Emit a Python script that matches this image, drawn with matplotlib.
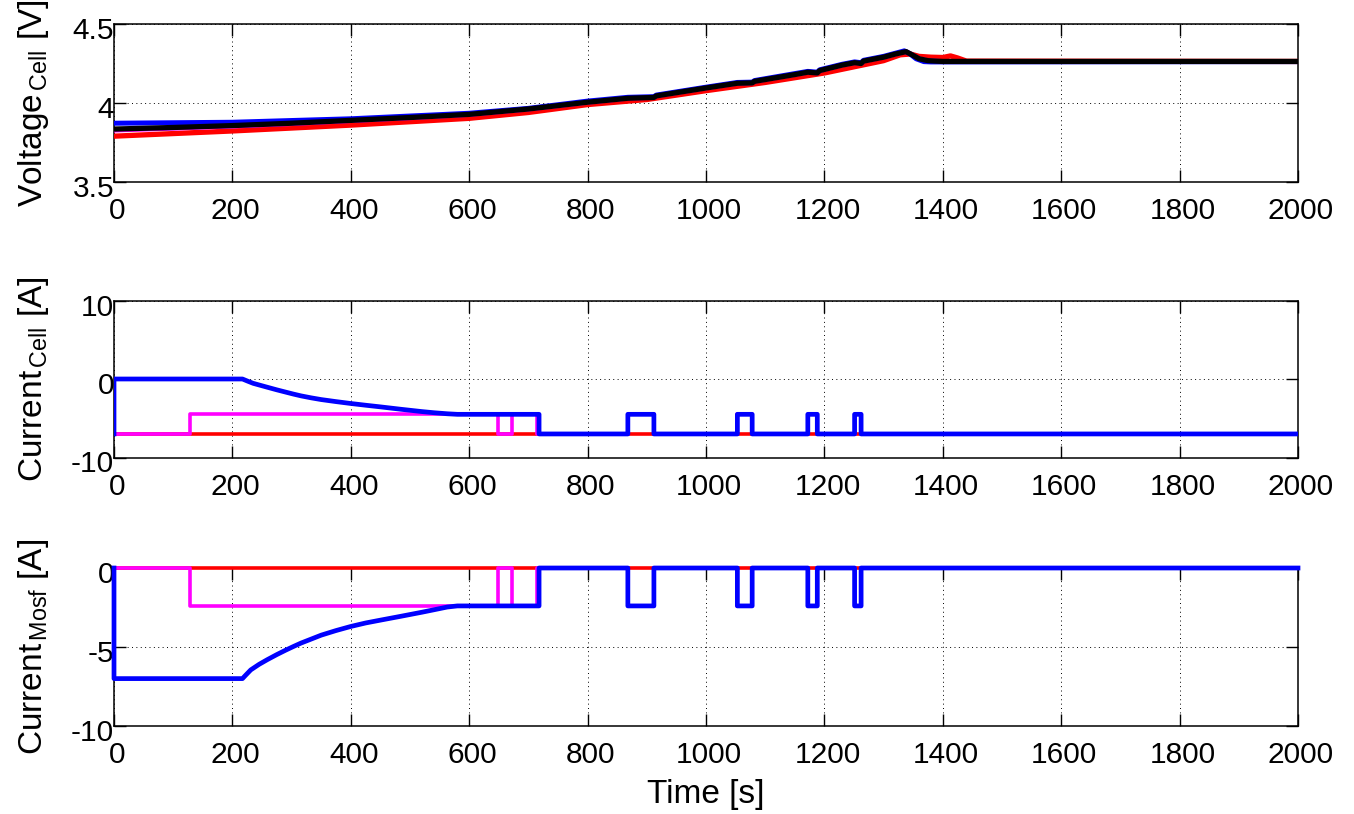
import matplotlib
matplotlib.use("Agg")
import matplotlib.pyplot as plt
import matplotlib.transforms as mtransforms
import numpy as np

plt.rcParams['font.family'] = ['Liberation Sans', 'DejaVu Sans']
plt.rcParams['mathtext.fontset'] = 'custom'
plt.rcParams['mathtext.rm'] = 'Liberation Sans'
plt.rcParams['mathtext.it'] = 'Liberation Sans:italic'
plt.rcParams['mathtext.bf'] = 'Liberation Sans:bold'

# ---------------- data ----------------
# Voltage (top panel)
v_black_t = [0, 100, 200, 300, 400, 500, 600, 700, 800, 868, 912, 916, 1000, 1053, 1078, 1082,
             1150, 1172, 1188, 1192, 1230, 1251, 1262, 1266, 1300, 1320, 1338, 1348, 1360, 1375,
             1400, 2000]
v_black = [3.835, 3.845, 3.857, 3.872, 3.89, 3.908, 3.928, 3.962, 4.005, 4.03, 4.035, 4.045, 4.095,
           4.125, 4.127, 4.137, 4.18, 4.195, 4.19, 4.205, 4.24, 4.255, 4.25, 4.265, 4.29, 4.31,
           4.325, 4.305, 4.28, 4.268, 4.263, 4.263]

v_magenta_t = v_black_t
v_magenta = [3.828, 3.84, 3.853, 3.869, 3.888, 3.906, 3.927, 3.961, 4.004, 4.03, 4.035, 4.045, 4.095,
             4.125, 4.127, 4.137, 4.18, 4.195, 4.19, 4.205, 4.24, 4.255, 4.25, 4.265, 4.29, 4.31,
             4.325, 4.305, 4.28, 4.268, 4.263, 4.263]

v_blue_t = [0, 200, 400, 600, 700, 800, 868, 912, 916, 1000, 1053, 1078, 1082, 1150, 1172, 1188,
            1192, 1230, 1251, 1262, 1266, 1300, 1320, 1335, 1345, 1355, 1368, 1380, 2000]
v_blue = [3.872, 3.878, 3.9, 3.935, 3.966, 4.012, 4.036, 4.04, 4.05, 4.1, 4.13, 4.132, 4.142, 4.186,
          4.2, 4.195, 4.21, 4.245, 4.26, 4.255, 4.27, 4.295, 4.315, 4.33, 4.31, 4.28, 4.262, 4.26, 4.262]

v_red_t = [0, 200, 400, 600, 700, 800, 900, 1000, 1100, 1200, 1300, 1328, 1345, 1360, 1380, 1400,
           1413, 1425, 1440, 2000]
v_red = [3.79, 3.823, 3.86, 3.903, 3.94, 3.99, 4.022, 4.078, 4.13, 4.19, 4.268, 4.305, 4.31, 4.295,
         4.29, 4.288, 4.298, 4.285, 4.265, 4.263]

# Cell current (middle panel)
ic_red_t = [0, 2000]
ic_red = [-7, -7]

ic_mag_t = [0, 129, 129, 649, 649, 673, 673, 714, 714, 868, 868, 912, 912, 1053, 1053, 1078, 1078,
            1172, 1172, 1188, 1188, 1251, 1251, 1262, 1262, 2000]
ic_mag = [-7, -7, -4.5, -4.5, -7, -7, -4.5, -4.5, -7, -7, -4.5, -4.5, -7, -7, -4.5, -4.5, -7,
          -7, -4.5, -4.5, -7, -7, -4.5, -4.5, -7, -7]

ic_blue_t = [0, 0, 217, 225, 235, 247, 259, 275, 290, 303, 316, 333, 350, 375, 400, 425, 450, 467,
             484, 502, 520, 541, 563, 580, 718, 718, 868, 868, 912, 912, 1053, 1053, 1078, 1078,
             1172, 1172, 1188, 1188, 1251, 1251, 1262, 1262, 2000]
ic_blue = [-7, 0, 0, -0.25, -0.55, -0.8, -1.05, -1.38, -1.67, -1.92, -2.15, -2.4, -2.62, -2.88,
           -3.12, -3.34, -3.55, -3.7, -3.85, -4.0, -4.15, -4.3, -4.43, -4.5, -4.5,
           -7, -7, -4.5, -4.5, -7, -7, -4.5, -4.5, -7, -7, -4.5, -4.5, -7, -7, -4.5, -4.5, -7, -7]

# MOSFET current (bottom panel)
im_red_t = [0, 2000]
im_red = [0, 0]

im_mag_t = ic_mag_t
im_mag = [0, 0, -2.4, -2.4, 0, 0, -2.4, -2.4, 0, 0, -2.4, -2.4, 0, 0, -2.4, -2.4, 0,
          0, -2.4, -2.4, 0, 0, -2.4, -2.4, 0, 0]

im_blue_t = [0, 0, 217, 222, 231, 245, 259, 275, 290, 303, 316, 333, 350, 375, 400, 425, 450, 467,
             484, 502, 520, 541, 563, 580, 718, 718, 868, 868, 912, 912, 1053, 1053, 1078, 1078,
             1172, 1172, 1188, 1188, 1251, 1251, 1262, 1262, 2000]
im_blue = [0, -7, -7, -6.8, -6.45, -6.1, -5.8, -5.48, -5.2, -4.97, -4.75, -4.5, -4.25, -3.96,
           -3.7, -3.48, -3.3, -3.18, -3.06, -2.93, -2.8, -2.64, -2.47, -2.4, -2.4, 0, 0,
           -2.4, -2.4, 0, 0, -2.4, -2.4, 0, 0, -2.4, -2.4, 0, 0, -2.4, -2.4, 0, 0]

x_ticks = list(range(0, 2001, 200))
panel_ylims = [(3.5, 4.5), (-10, 10), (-10, 0)]
panel_yticks = [[3.5, 4, 4.5], [-10, 0, 10], [-10, -5, 0]]
panel_yticklabels = [['3.5', '4', '4.5'], ['-10', '0', '10'], ['-10', '-5', '0']]
panel_ylabels = [r'Voltage$_{\,\mathrm{Cell}}$ [V]', r'Current$_{\,\mathrm{Cell}}$ [A]',
                 r'Current$_{\,\mathrm{Mosf}}$ [A]']
xlabel = 'Time [s]'

# ---------------- figure ----------------
W, H = 1354, 814
fig = plt.figure(figsize=(W / 100, H / 100), dpi=100)
left = 114 / W
width = (1298 - 114) / W
tops = [24, 300.5, 568]
bots = [182, 457.5, 726]
axes = []
for tp, bt in zip(tops, bots):
    ax = fig.add_axes([left, 1 - bt / H, width, (bt - tp) / H])
    axes.append(ax)

fs = 21.5
down = mtransforms.ScaledTranslation(0, -4 / 100, fig.dpi_scale_trans)
right_shift = mtransforms.ScaledTranslation(3 / 100, 0, fig.dpi_scale_trans)
for i, ax in enumerate(axes):
    ax.set_xlim(0, 2000)
    ax.set_ylim(*panel_ylims[i])
    ax.set_xticks(x_ticks)
    ax.set_xticklabels([str(t) for t in x_ticks])
    ax.set_yticks(panel_yticks[i])
    ax.set_yticklabels(panel_yticklabels[i])
    ax.tick_params(direction='in', top=True, right=True, length=8.5, width=1.0,
                   labelsize=fs, color='black')
    ax.tick_params(axis='x', pad=11)
    ax.tick_params(axis='y', pad=0)
    for lab in ax.get_yticklabels():
        lab.set_transform(lab.get_transform() + down)
    for lab in ax.get_xticklabels():
        lab.set_transform(lab.get_transform() + right_shift)
    ax.grid(True, color='black', linestyle=(0, (1, 3.5)), linewidth=0.7)
    for s in ax.spines.values():
        s.set_linewidth(1.1)
        s.set_color('black')
    ax.set_ylabel(panel_ylabels[i], fontsize=24)
    ax.yaxis.set_label_coords(-0.053, 0.5)

ax0, ax1, ax2 = axes
ax0.plot(v_red_t, v_red, color='#ff0000', lw=3.8, zorder=3)
ax0.plot(v_magenta_t, v_magenta, color='#ff00ff', lw=3.4, zorder=3)
ax0.plot(v_blue_t, v_blue, color='#0000ff', lw=3.6, zorder=3)
ax0.plot(v_black_t, v_black, color='black', lw=3.8, zorder=3)

ax1.plot(ic_red_t, ic_red, color='#ff0000', lw=2.6, zorder=3)
ax1.plot(ic_mag_t, ic_mag, color='#ff00ff', lw=2.6, zorder=3)
ax1.plot(ic_blue_t, ic_blue, color='#0000ff', lw=3.4, zorder=3)

ax2.plot(im_red_t, im_red, color='#ff0000', lw=2.6, zorder=3, clip_on=False)
ax2.plot(im_mag_t, im_mag, color='#ff00ff', lw=2.6, zorder=3, clip_on=False)
ax2.plot(im_blue_t, im_blue, color='#0000ff', lw=3.4, zorder=3, clip_on=False)

ax2.set_xlabel(xlabel, fontsize=24, labelpad=7)

fig.savefig('out.png', dpi=100)
